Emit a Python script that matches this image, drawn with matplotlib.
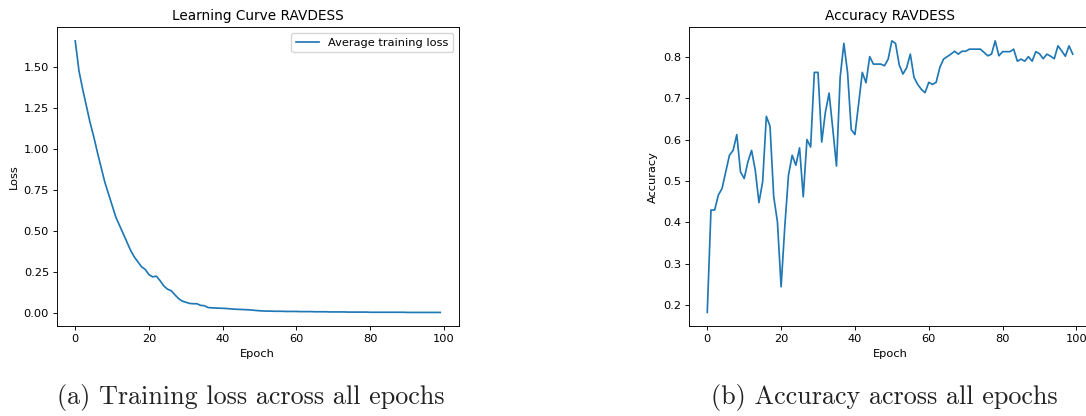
import matplotlib
matplotlib.use("Agg")
import matplotlib.pyplot as plt
import numpy as np

epochs = list(range(100))

loss = [1.66, 1.478, 1.367, 1.265, 1.164, 1.077, 0.981, 0.89, 0.80, 0.728,
        0.657, 0.586, 0.535, 0.485, 0.434, 0.383, 0.343, 0.312, 0.282, 0.266,
        0.234, 0.221, 0.225, 0.198, 0.166, 0.146, 0.137, 0.112, 0.089, 0.073,
        0.066, 0.059, 0.057, 0.057, 0.047, 0.045, 0.034, 0.032, 0.031, 0.030,
        0.029, 0.028, 0.026, 0.024, 0.023, 0.022, 0.021, 0.020, 0.018, 0.016,
        0.014, 0.013, 0.012, 0.012, 0.011, 0.011, 0.011, 0.010, 0.010, 0.010,
        0.010, 0.009, 0.009, 0.009, 0.009, 0.008, 0.008, 0.008, 0.008, 0.007,
        0.007, 0.007, 0.007, 0.007, 0.006, 0.006, 0.006, 0.006, 0.006, 0.006,
        0.005, 0.005, 0.005, 0.005, 0.005, 0.005, 0.005, 0.005, 0.005, 0.005,
        0.004, 0.004, 0.004, 0.004, 0.004, 0.004, 0.004, 0.004, 0.004, 0.004]

accuracy = [0.183, 0.43, 0.43, 0.466, 0.482, 0.522, 0.562, 0.574, 0.612, 0.522,
            0.506, 0.546, 0.574, 0.526, 0.448, 0.498, 0.656, 0.632, 0.462, 0.402,
            0.245, 0.39, 0.514, 0.562, 0.538, 0.58, 0.462, 0.6, 0.582, 0.762,
            0.762, 0.594, 0.666, 0.712, 0.626, 0.536, 0.75, 0.832, 0.762, 0.624,
            0.612, 0.686, 0.762, 0.737, 0.8, 0.782, 0.782, 0.782, 0.778, 0.794,
            0.838, 0.832, 0.78, 0.758, 0.773, 0.806, 0.75, 0.733, 0.721, 0.713,
            0.738, 0.733, 0.738, 0.774, 0.794, 0.8, 0.806, 0.813, 0.806, 0.813,
            0.813, 0.818, 0.818, 0.818, 0.818, 0.81, 0.802, 0.806, 0.838, 0.802,
            0.812, 0.812, 0.812, 0.818, 0.789, 0.794, 0.789, 0.8, 0.789, 0.812,
            0.807, 0.795, 0.806, 0.801, 0.795, 0.826, 0.814, 0.801, 0.826, 0.806]

titles = ["Learning Curve RAVDESS", "Accuracy RAVDESS"]
ylabels = ["Loss", "Accuracy"]
xlabel = "Epoch"
legend_label = "Average training loss"
captions = ["(a) Training loss across all epochs", "(b) Accuracy across all epochs"]

W, H = 1086, 416
s = 0.82
plt.rcParams.update({
    "font.size": 10 * s,
    "axes.titlesize": 12 * s,
    "axes.labelsize": 10 * s,
    "xtick.labelsize": 10 * s,
    "ytick.labelsize": 10 * s,
    "legend.fontsize": 10 * s,
    "axes.linewidth": 0.8 * s,
    "xtick.major.width": 0.8 * s,
    "ytick.major.width": 0.8 * s,
    "xtick.major.size": 3.5 * s,
    "ytick.major.size": 3.5 * s,
    "xtick.major.pad": 3.5 * s,
    "ytick.major.pad": 3.5 * s,
    "axes.titlepad": 6 * s,
    "axes.labelpad": 4 * s,
    "lines.linewidth": 1.5 * s,
})

fig = plt.figure(figsize=(W / 100, H / 100), dpi=100)

def px_axes(l, r, t, b):
    return fig.add_axes([l / W, (H - b) / H, (r - l) / W, (b - t) / H])

ax1 = px_axes(57, 458.5, 27.3, 326)
ax2 = px_axes(689, 1091, 27.3, 326)

ax1.plot(epochs, loss, color="#1f77b4", label=legend_label)
ax1.set_title(titles[0])
ax1.set_ylabel(ylabels[0])
ax1.set_xlabel(xlabel)
ax1.legend(loc="upper right")

ax2.plot(epochs, accuracy, color="#1f77b4")
ax2.set_title(titles[1])
ax2.set_ylabel(ylabels[1])
ax2.set_xlabel(xlabel)

fig.text(251 / W, (H - 404) / H, captions[0], family="cmr10", fontsize=18.8,
         ha="center", va="baseline", color="#222222")
fig.text(884 / W, (H - 404) / H, captions[1], family="cmr10", fontsize=18.8,
         ha="center", va="baseline", color="#222222")

fig.savefig("out.png", dpi=100)
